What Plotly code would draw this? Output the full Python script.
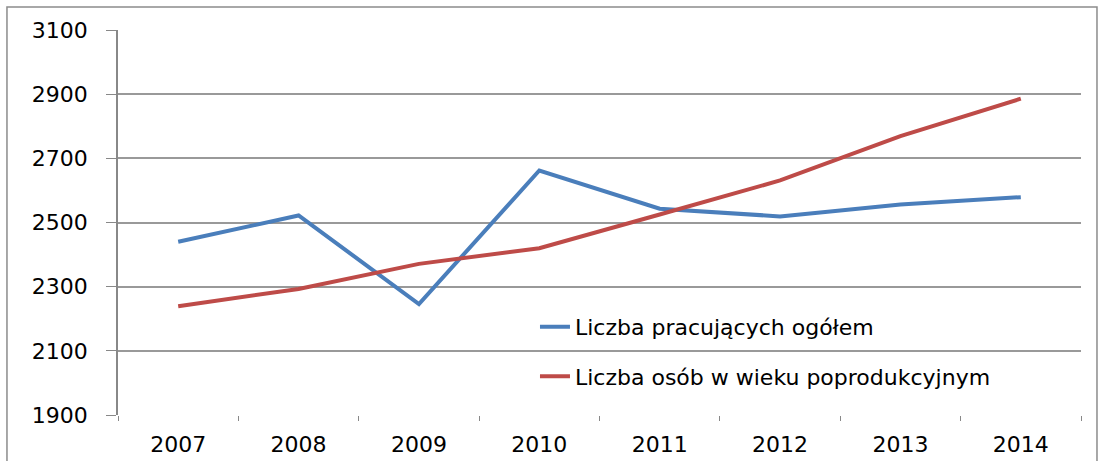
import plotly.graph_objects as go

years = ["2007", "2008", "2009", "2010", "2011", "2012", "2013", "2014"]
pracujacy = [2440, 2522, 2246, 2662, 2543, 2519, 2556, 2579]
poprodukcyjny = [2239, 2293, 2371, 2420, 2525, 2631, 2769, 2886]
name_blue = "Liczba pracujących ogółem"
name_red = "Liczba osób w wieku poprodukcyjnym"
y_ticks = [1900, 2100, 2300, 2500, 2700, 2900, 3100]

fig = go.Figure()
fig.add_trace(go.Scatter(x=years, y=pracujacy, mode="lines", name=name_blue,
                         line=dict(color="#4A7EBB", width=4), legendgroup="a"))
fig.add_trace(go.Scatter(x=years, y=poprodukcyjny, mode="lines", name=name_red,
                         line=dict(color="#BE4B48", width=4), legendgroup="b"))

fig.update_layout(
    width=1105, height=461,
    margin=dict(l=118, r=24, t=30, b=46),
    paper_bgcolor="white", plot_bgcolor="white",
    font=dict(family="DejaVu Sans", size=22, color="black"),
    showlegend=True,
    legend=dict(x=0.433, y=0.164, xanchor="left", yanchor="middle",
                bgcolor="rgba(0,0,0,0)", tracegroupgap=18,
                font=dict(family="DejaVu Sans", size=22)),
    xaxis=dict(type="category", tickson="boundaries", ticks="outside", ticklen=5,
               tickcolor="#888888", showgrid=False, showline=False, automargin=False,
               ticklabelstandoff=14, tickfont=dict(size=22), range=[-0.5, 7.5]),
    yaxis=dict(range=[1900, 3100], tickvals=y_ticks, ticks="outside", ticklen=10,
               tickcolor="#888888", showgrid=True, gridcolor="#999999", gridwidth=1.5,
               showline=True, linecolor="#888888", linewidth=1.5, zeroline=False,
               automargin=False, ticklabelstandoff=14, tickfont=dict(size=22)),
    shapes=[dict(type="rect", xref="paper", yref="paper", x0=-0.1153, x1=1.0166,
                 y0=-0.3, y1=1.0597, line=dict(color="#8c8c8c", width=1.5))],
)

fig.write_html("out.html", config={"displayModeBar": False},
               post_script="document.body.style.margin='0';")
